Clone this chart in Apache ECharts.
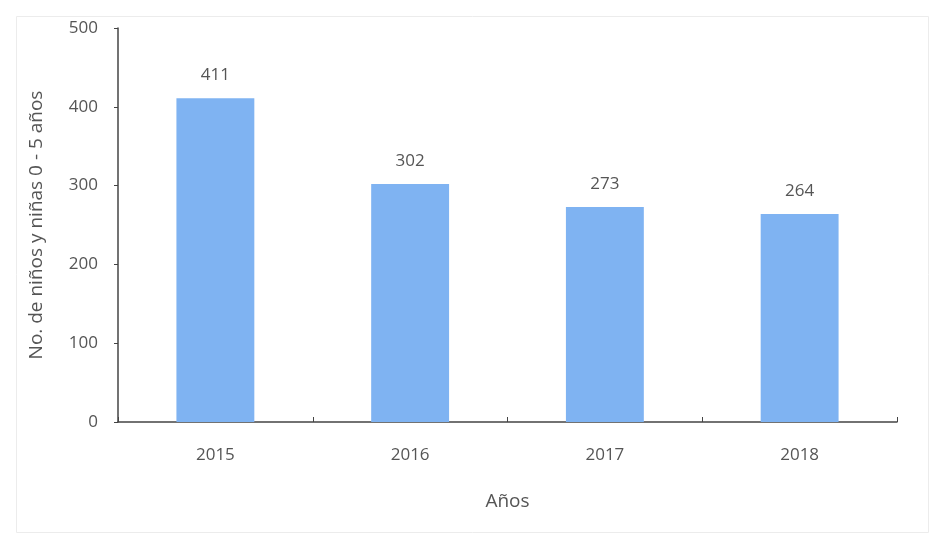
<!DOCTYPE html>
<html><head><meta charset="utf-8">
<script src="https://cdn.jsdelivr.net/npm/echarts@6/dist/echarts.min.js"></script>
<style>html,body{margin:0;padding:0;background:#fff}#c{width:937px;height:540px}</style>
</head><body><div id="c"></div>
<script>
const categories = ['2015', '2016', '2017', '2018'];
const values = [411, 302, 273, 264];
const yTicks = [0, 100, 200, 300, 400, 500];

const chart = echarts.init(document.getElementById('c'));
const font = '"Open Sans", "Liberation Sans", sans-serif';
chart.setOption({
  backgroundColor: '#fff',
  animation: false,
  graphic: [{type: 'rect', left: 14, top: 14, shape: {width: 912, height: 516}, style: {fill: 'none', stroke: '#ececec', lineWidth: 1}}],
  grid: {left: 118, right: 40, top: 28, bottom: 118},
  xAxis: {
    type: 'category', data: categories,
    name: 'Años', nameLocation: 'middle', nameGap: 70,
    nameTextStyle: {color: '#555', fontSize: 19, fontFamily: font},
    axisLine: {lineStyle: {color: '#444', width: 1.5}},
    axisTick: {show: true, inside: true, length: 5, lineStyle: {color: '#444'}},
    axisLabel: {color: '#555', fontSize: 17, fontFamily: font, margin: 25}
  },
  yAxis: {
    type: 'value', min: yTicks[0], max: yTicks[yTicks.length - 1], interval: 100,
    name: 'No. de niños y niñas 0 - 5 años', nameLocation: 'middle', nameGap: 72,
    nameTextStyle: {color: '#555', fontSize: 19, fontFamily: font},
    axisLine: {show: true, lineStyle: {color: '#444', width: 1.5}},
    axisTick: {show: true, length: 4, lineStyle: {color: '#444'}},
    splitLine: {show: false},
    axisLabel: {color: '#555', fontSize: 17, fontFamily: font, margin: 20}
  },
  series: [{
    type: 'bar', data: values, barWidth: '40%',
    itemStyle: {color: '#7fb3f2'},
    label: {show: true, position: 'top', distance: 14, color: '#555', fontSize: 17, fontFamily: font}
  }]
});
</script></body></html>
